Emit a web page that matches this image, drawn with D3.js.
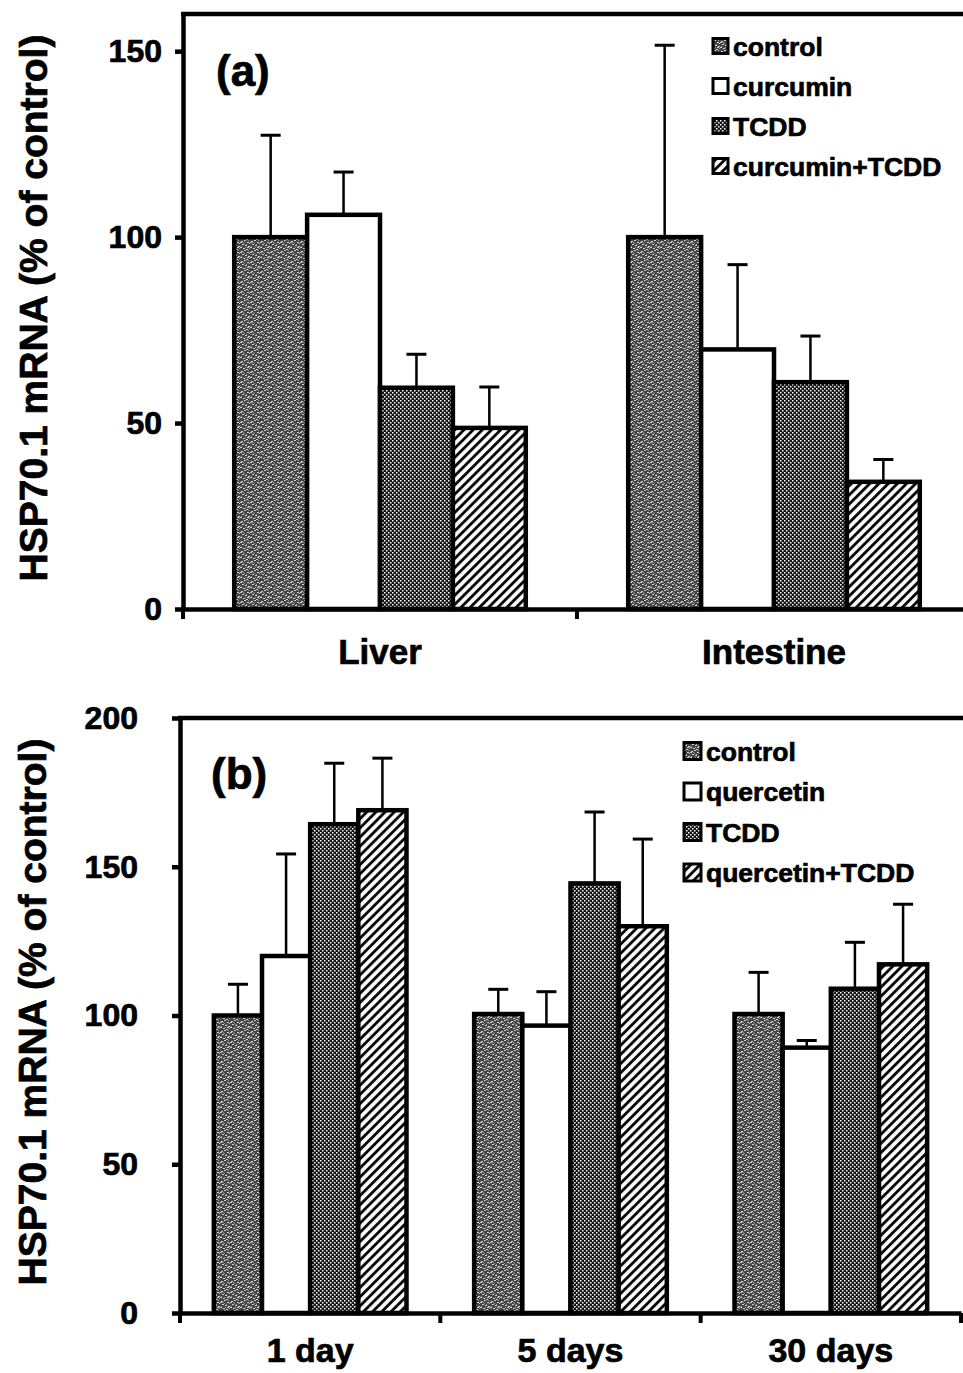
<!DOCTYPE html>
<html>
<head>
<meta charset="utf-8">
<script src="https://cdn.jsdelivr.net/npm/d3@7"></script>
<style>
  body { margin: 0; background: #fff; }
  svg text { font-family: "Liberation Sans", Arial, Helvetica, sans-serif; font-weight: bold; fill: #000; stroke: #000; stroke-width: 0.7px; }
</style>
</head>
<body>
<div id="chart"></div>
<script>
// panel (a)
const groupsA = ["Liver", "Intestine"];
const seriesA = ["control", "curcumin", "TCDD", "curcumin+TCDD"];
const controlA = [100, 100];
const controlErrA = [27.4, 51.6];
const curcuminA = [106, 69.8];
const curcuminErrA = [11.5, 22.8];
const tcddA = [59.5, 61];
const tcddErrA = [9, 12.4];
const curTcddA = [48.7, 34.2];
const curTcddErrA = [11, 6];
const ticksA = [0, 50, 100, 150];

// panel (b)
const groupsB = ["1 day", "5 days", "30 days"];
const seriesB = ["control", "quercetin", "TCDD", "quercetin+TCDD"];
const controlB = [100, 100.5, 100.5];
const controlErrB = [10.5, 8.3, 14];
const quercetinB = [120, 96.6, 89.2];
const quercetinErrB = [34.3, 11.4, 2.4];
const tcddB = [164.3, 144.4, 109];
const tcddErrB = [20.5, 24, 15.6];
const querTcddB = [169, 130, 117.2];
const querTcddErrB = [17.5, 29.3, 20.2];
const ticksB = [0, 50, 100, 150, 200];

const yLabel = "HSP70.1 mRNA (% of control)";
const fills = ["url(#pat-control)", "#fff", "url(#pat-tcdd)", "url(#pat-hatch)"];

const W = 963, H = 1373;
const svg = d3.select("#chart").append("svg")
    .attr("width", W).attr("height", H)
    .attr("viewBox", `0 0 ${W} ${H}`);
svg.append("rect").attr("width", W).attr("height", H).attr("fill", "#fff");

// fill textures
const defs = svg.append("defs");
const pc = defs.append("pattern").attr("id", "pat-control")
    .attr("patternUnits", "userSpaceOnUse").attr("width", 10).attr("height", 10);
pc.append("rect").attr("width", 10).attr("height", 10).attr("fill", "#444");
[[1,1],[4,0],[7,2],[2,4],[5,5],[8,6],[0,7],[3,8],[6,9],[9,3],[0,2],[7,7]].forEach(p => {
    pc.append("rect").attr("x", p[0]).attr("y", p[1]).attr("width", 2).attr("height", 1).attr("fill", "#cfcfcf");
});
[[3,2],[8,0],[6,4],[1,6],[5,7],[9,8],[4,3]].forEach(p => {
    pc.append("rect").attr("x", p[0]).attr("y", p[1]).attr("width", 1).attr("height", 1).attr("fill", "#999");
});

const pt = defs.append("pattern").attr("id", "pat-tcdd")
    .attr("patternUnits", "userSpaceOnUse").attr("width", 4).attr("height", 4);
pt.append("rect").attr("width", 4).attr("height", 4).attr("fill", "#151515");
pt.append("rect").attr("x", 0).attr("y", 0).attr("width", 1.5).attr("height", 1.5).attr("fill", "#fff");
pt.append("rect").attr("x", 2).attr("y", 2).attr("width", 1.5).attr("height", 1.5).attr("fill", "#fff");

const ph = defs.append("pattern").attr("id", "pat-hatch")
    .attr("patternUnits", "userSpaceOnUse").attr("width", 6.5).attr("height", 6.5)
    .attr("patternTransform", "rotate(45)");
ph.append("rect").attr("width", 6.5).attr("height", 6.5).attr("fill", "#fff");
ph.append("line").attr("x1", 1.5).attr("x2", 1.5).attr("y1", 0).attr("y2", 6.5)
    .attr("stroke", "#000").attr("stroke-width", 2.8);

function drawPanel(p) {
    const g = svg.append("g");

    const x = d3.scaleBand().domain(p.groups).range([p.left, p.right]).paddingInner(0).paddingOuter(0);
    const bw = x.bandwidth();
    const xs = d3.scaleBand().domain(p.series).range([bw * 0.13, bw * 0.87]).padding(0);
    const y = d3.scaleLinear().domain([0, p.ymax]).range([p.bottom, p.top]);

    // bars + error bars
    p.series.forEach((s, si) => {
        const vals = p.values[si], errs = p.errors[si];
        const cx = d => x(d) + xs(s) + xs.bandwidth() / 2;
        const sg = g.append("g");
        sg.selectAll("line.err")
            .data(p.groups)
            .join("line")
            .attr("x1", cx).attr("x2", cx)
            .attr("y1", (d, i) => y(vals[i]))
            .attr("y2", (d, i) => y(vals[i] + errs[i]))
            .attr("stroke", "#000").attr("stroke-width", 2.5);
        sg.selectAll("line.cap")
            .data(p.groups)
            .join("line")
            .attr("x1", d => cx(d) - 10)
            .attr("x2", d => cx(d) + 10)
            .attr("y1", (d, i) => y(vals[i] + errs[i]))
            .attr("y2", (d, i) => y(vals[i] + errs[i]))
            .attr("stroke", "#000").attr("stroke-width", 3);
        sg.selectAll("rect")
            .data(p.groups)
            .join("rect")
            .attr("x", d => x(d) + xs(s))
            .attr("y", (d, i) => y(vals[i]))
            .attr("width", xs.bandwidth())
            .attr("height", (d, i) => y(0) - y(vals[i]))
            .attr("fill", fills[si])
            .attr("stroke", "#000").attr("stroke-width", 4.5);
    });

    // left axis
    const ay = g.append("g")
        .attr("transform", `translate(${p.left},0)`)
        .call(d3.axisLeft(y).tickValues(p.ticks).tickSize(8).tickPadding(p.tickPad).tickSizeOuter(0));
    ay.select(".domain").attr("stroke-width", 4.5);
    ay.selectAll(".tick line").attr("stroke-width", 4.5);
    ay.selectAll(".tick text").style("font-size", "32px");

    // bottom axis, ticks at group boundaries
    const ax = g.append("g")
        .attr("transform", `translate(0,${p.bottom})`)
        .call(d3.axisBottom(x).tickSize(0).tickPadding(p.catPad).tickSizeOuter(0));
    ax.select(".domain").attr("stroke-width", 4.5);
    ax.selectAll(".tick text").style("font-size", p.catSize + "px");
    g.selectAll("line.bnd")
        .data(p.groups.map(d => x(d)).concat([x.range()[1]]))
        .join("line")
        .attr("x1", d => d).attr("x2", d => d)
        .attr("y1", p.bottom).attr("y2", p.bottom + 10)
        .attr("stroke", "#000").attr("stroke-width", 4);

    // top frame
    g.append("line")
        .attr("x1", p.left - 2).attr("x2", W)
        .attr("y1", p.top).attr("y2", p.top)
        .attr("stroke", "#000").attr("stroke-width", 4.5);

    // y label
    g.append("text")
        .attr("transform", `translate(${p.yLabelX},${p.yLabelY}) rotate(-90)`)
        .attr("text-anchor", "middle")
        .style("font-size", "39px")
        .text(yLabel);

    // panel tag
    g.append("text")
        .attr("x", p.tagX).attr("y", p.tagY)
        .style("font-size", "44px")
        .text(p.tag);

    // legend
    const lg = g.append("g");
    p.series.forEach((s, si) => {
        const cy = p.legY + si * p.legStep;
        lg.append("rect")
            .attr("x", p.legX).attr("y", cy - p.sw / 2)
            .attr("width", p.sw).attr("height", p.sw)
            .attr("fill", fills[si])
            .attr("stroke", "#000").attr("stroke-width", 3);
        lg.append("text")
            .attr("x", p.legX + p.sw + 5).attr("y", cy)
            .attr("dy", "0.36em")
            .style("font-size", "26.5px")
            .text(s);
    });
}

drawPanel({
    groups: groupsA, series: seriesA,
    values: [controlA, curcuminA, tcddA, curTcddA],
    errors: [controlErrA, curcuminErrA, tcddErrA, curTcddErrA],
    ticks: ticksA, ymax: 160, tickPad: 13, catPad: 30, catSize: 35,
    left: 183, right: 971, top: 14, bottom: 609,
    yLabelX: 47, yLabelY: 308,
    tag: "(a)", tagX: 216, tagY: 86,
    legX: 713, legY: 46, legStep: 40, sw: 15
});

drawPanel({
    groups: groupsB, series: seriesB,
    values: [controlB, quercetinB, tcddB, querTcddB],
    errors: [controlErrB, quercetinErrB, tcddErrB, querTcddErrB],
    ticks: ticksB, ymax: 200, tickPad: 34, catPad: 25, catSize: 34,
    left: 180, right: 961, top: 718, bottom: 1313,
    yLabelX: 46, yLabelY: 1012,
    tag: "(b)", tagX: 211, tagY: 789,
    legX: 684, legY: 751, legStep: 40.5, sw: 17
});
</script>
</body>
</html>
